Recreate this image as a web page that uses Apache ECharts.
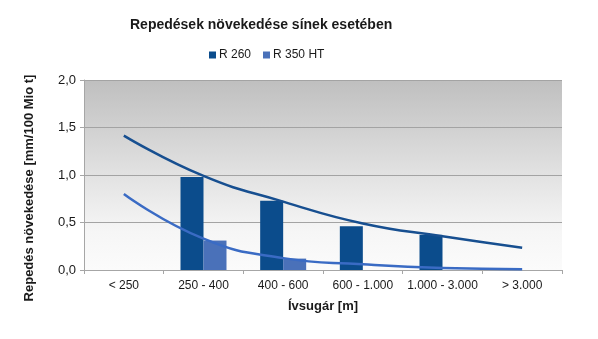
<!DOCTYPE html>
<html><head><meta charset="utf-8">
<script src="https://cdn.jsdelivr.net/npm/echarts@6/dist/echarts.min.js"></script>
<style>html,body{margin:0;padding:0;background:#fff}#c{width:598px;height:339px}</style>
</head><body><div id="c"></div>
<script>
const categories = ['< 250', '250 - 400', '400 - 600', '600 - 1.000', '1.000 - 3.000', '> 3.000'];
const r260 = [null, 0.98, 0.73, 0.46, 0.37, null];
const r350 = [null, 0.31, 0.12, null, null, null];
const trend260 = [1.415, 0.99, 0.72, 0.49, 0.355, 0.235];
const trend350 = [0.80, 0.33, 0.125, 0.06, 0.02, 0.008];
const yTicks = [0, 0.5, 1.0, 1.5, 2.0];

const chart = echarts.init(document.getElementById('c'));
const font = 'Liberation Sans, Arial, sans-serif';
chart.setOption({
  animation: false,
  title: {
    text: 'Repedések növekedése sínek esetében',
    left: 125, top: 13,
    textStyle: { fontFamily: font, fontSize: 14, fontWeight: 'bold', color: '#1a1a1a' }
  },
  legend: {
    data: ['R 260', 'R 350 HT'],
    left: 204, top: 44,
    itemWidth: 7, itemHeight: 7, itemGap: 12,
    icon: 'rect',
    textStyle: { fontFamily: font, fontSize: 12, color: '#1a1a1a', padding: [0, 0, 0, -2] }
  },
  grid: {
    left: 84, right: 36, top: 80, bottom: 69, show: true, borderWidth: 0,
    backgroundColor: { type: 'linear', x: 0, y: 0, x2: 0, y2: 1,
      colorStops: [{ offset: 0, color: '#bfbfbf' }, { offset: 0.5, color: '#e2e2e2' }, { offset: 0.8, color: '#f6f6f6' }, { offset: 1, color: '#fbfbfb' }] }
  },
  graphic: [{
    type: 'text', x: 29, y: 188, rotation: Math.PI / 2,
    style: { text: 'Repedés növekedése [mm/100 Mio t]', font: 'bold 13px ' + font, fill: '#1a1a1a', textAlign: 'center', textVerticalAlign: 'middle' }
  }],
  xAxis: {
    type: 'category', data: categories,
    name: 'Ívsugár [m]', nameLocation: 'middle', nameGap: 30,
    nameTextStyle: { fontFamily: font, fontSize: 13, fontWeight: 'bold', color: '#1a1a1a' },
    axisLine: { lineStyle: { color: '#a6a6a6' } },
    axisTick: { show: true, length: 4, lineStyle: { color: '#a6a6a6' } },
    axisLabel: { fontFamily: font, fontSize: 12, color: '#1a1a1a', margin: 10, interval: 0 }
  },
  yAxis: {
    type: 'value', min: 0, max: 2, interval: 0.5,
    axisLine: { show: true, lineStyle: { color: '#a6a6a6' } },
    axisTick: { show: true, length: 4, lineStyle: { color: '#a6a6a6' } },
    splitLine: { lineStyle: { color: '#a3a3a3' } },
    axisLabel: { fontFamily: font, fontSize: 13, color: '#1a1a1a', margin: 8,
      formatter: v => yTicks.includes(v) ? v.toFixed(1).replace('.', ',') : '' }
  },
  series: [
    { name: 'R 260', type: 'bar', data: r260, barWidth: 23, barGap: '0%', itemStyle: { color: '#0b4c8c' } },
    { name: 'R 350 HT', type: 'bar', data: r350, barWidth: 23, itemStyle: { color: '#4a71b9' } },
    { name: 'trend260', type: 'line', data: trend260, smooth: 0.5, showSymbol: false, lineStyle: { color: '#174f90', width: 2.5 }, z: 5 },
    { name: 'trend350', type: 'line', data: trend350, smooth: 0.5, showSymbol: false, lineStyle: { color: '#3a6bc4', width: 2.5 }, z: 5 }
  ]
});
</script></body></html>
